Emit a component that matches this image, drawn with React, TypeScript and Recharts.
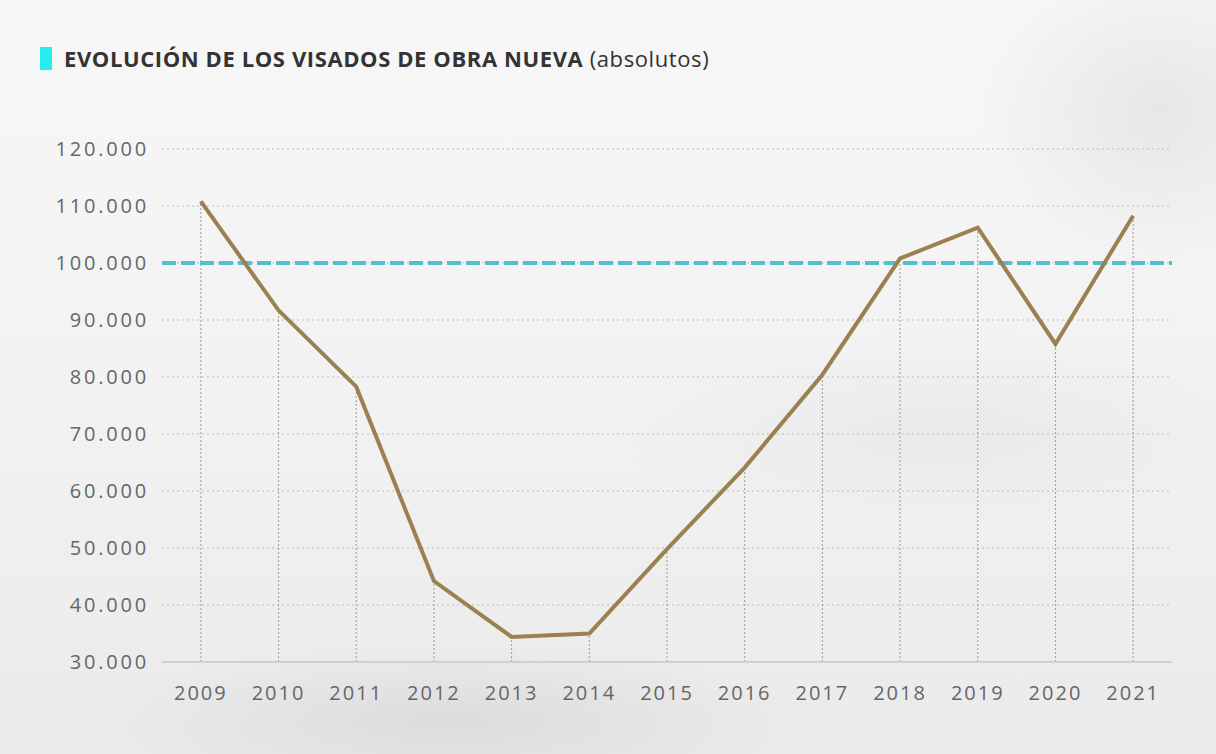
import { CartesianGrid, Line, LineChart, ReferenceLine, XAxis, YAxis } from "recharts";

const YEARS = ["2009", "2010", "2011", "2012", "2013", "2014", "2015", "2016", "2017", "2018", "2019", "2020", "2021"];
const VISADOS = [110800, 91700, 78300, 44200, 34400, 35000, 49800, 64100, 80400, 100800, 106200, 85800, 108300];
const Y_TICKS = [30000, 40000, 50000, 60000, 70000, 80000, 90000, 100000, 110000, 120000];
const REFERENCIA = 100000;

const FONT = "'Open Sans', 'Noto Sans', sans-serif";

const data = YEARS.map((year, i) => ({ year, visados: VISADOS[i] }));

const fmt = (v: number) => v.toLocaleString("de-DE");

export default function App() {
  return (
    <div
      style={{
        position: "absolute",
        left: 0,
        top: 0,
        width: 1216,
        height: 754,
        overflow: "hidden",
        fontFamily: FONT,
        background:
          "radial-gradient(ellipse 500px 110px at 450px 720px, rgba(205,205,207,0.5), transparent 70%)," +
          "radial-gradient(ellipse 260px 220px at 1160px 110px, rgba(218,218,220,0.55), transparent 70%)," +
          "radial-gradient(ellipse 500px 140px at 950px 430px, rgba(224,224,226,0.45), transparent 70%)," +
          "linear-gradient(180deg, #f7f7f7 0%, #f2f2f3 55%, #eaeaeb 100%)",
      }}
    >
      <div style={{ position: "absolute", left: 40, top: 47, width: 12, height: 23, background: "#26EEEE" }} />
      <div
        style={{
          position: "absolute",
          left: 64,
          top: 43,
          fontSize: 22,
          color: "#333",
          whiteSpace: "nowrap",
          letterSpacing: 0.6,
        }}
      >
        <span style={{ fontWeight: 700 }}>EVOLUCIÓN DE LOS VISADOS DE OBRA NUEVA</span>{" "}
        <span style={{ fontWeight: 400 }}>(absolutos)</span>
      </div>
      <LineChart width={1216} height={754} data={data} margin={{ top: 149, right: 44, bottom: 62, left: 82 }}>
        <CartesianGrid vertical={false} stroke="#bdbdbd" strokeDasharray="2 3" />
        <XAxis
          dataKey="year"
          scale="band"
          axisLine={{ stroke: "#cfcfd1", strokeWidth: 2 }}
          tickLine={false}
          tickSize={0}
          tickMargin={24}
          interval={0}
          tick={{ fill: "#666", fontSize: 20, letterSpacing: 2, fontFamily: FONT }}
        />
        <YAxis
          domain={[30000, 120000]}
          ticks={Y_TICKS}
          width={80}
          axisLine={false}
          tickLine={false}
          tickSize={0}
          tickMargin={13}
          tickFormatter={fmt}
          tick={{ fill: "#666", fontSize: 20, letterSpacing: 2.8, fontFamily: FONT }}
        />
        {data.map((d) => (
          <ReferenceLine
            key={d.year}
            segment={[
              { x: d.year, y: 30000 },
              { x: d.year, y: d.visados },
            ]}
            stroke="#9a9a9a"
            strokeDasharray="2 2"
            strokeWidth={1}
          />
        ))}
        <ReferenceLine y={REFERENCIA} stroke="#52BFCB" strokeWidth={4} strokeDasharray="14 5" />
        <Line
          type="linear"
          dataKey="visados"
          stroke="#9B8150"
          strokeWidth={4}
          dot={false}
          activeDot={false}
          isAnimationActive={false}
        />
      </LineChart>
    </div>
  );
}
